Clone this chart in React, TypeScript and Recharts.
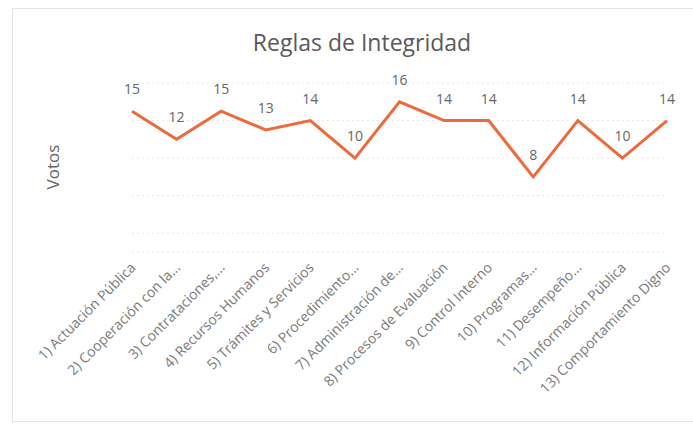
import React from 'react'
import { CartesianGrid, LabelList, Line, LineChart, XAxis, YAxis } from 'recharts'

const categories = [
  '1) Actuación Pública',
  '2) Cooperación con la...',
  '3) Contrataciones,...',
  '4) Recursos Humanos',
  '5) Trámites y Servicios',
  '6) Procedimiento...',
  '7) Administración de...',
  '8) Procesos de Evaluación',
  '9) Control Interno',
  '10) Programas...',
  '11) Desempeño...',
  '12) Información Pública',
  '13) Comportamiento Digno'
]

const votos = [15, 12, 15, 13, 14, 10, 16, 14, 14, 8, 14, 10, 14]

const yTicks = [0, 2, 4, 6, 8, 10, 12, 14, 16, 18]

const data = categories.map((name, i) => ({ name, votos: votos[i] }))

const FONT = '"Open Sans", "Noto Sans", sans-serif'

// rotated category labels, right end sits just under the tick
const AngledTick = (props: any) => {
  const { x, y, payload } = props
  return (
    <g transform={`translate(${x + 1},${y + 13})`}>
      <text
        transform="rotate(-45)"
        textAnchor="end"
        dy="0.35em"
        fill="#7a7a7a"
        fontSize={14}
        fontFamily={FONT}
      >
        {payload.value}
      </text>
    </g>
  )
}

export default function App() {
  return (
    <div
      style={{
        position: 'absolute',
        left: 0,
        top: 0,
        width: 693,
        height: 429,
        background: '#fff',
        overflow: 'hidden'
      }}
    >
      <div
        style={{
          position: 'absolute',
          left: 12,
          top: 8,
          width: 690,
          height: 412,
          border: '1px solid #e4e4e4'
        }}
      />
      <div
        style={{
          position: 'absolute',
          left: 0,
          width: 724,
          top: 26,
          textAlign: 'center',
          fontFamily: FONT,
          fontSize: 23,
          color: '#595959'
        }}
      >
        Reglas de Integridad
      </div>
      <div
        style={{
          position: 'absolute',
          left: 52,
          top: 167,
          transform: 'translate(-50%, -50%) rotate(-90deg)',
          fontFamily: FONT,
          fontSize: 17,
          color: '#666'
        }}
      >
        Votos
      </div>
      <div style={{ position: 'absolute', left: 0, top: 0 }}>
        <LineChart
          width={693}
          height={429}
          data={data}
          margin={{ top: 83, right: 26, left: 132, bottom: 0 }}
        >
          <CartesianGrid
            vertical={false}
            stroke="#e8e8e8"
            strokeDasharray="2 3"
          />
          <XAxis
            dataKey="name"
            interval={0}
            height={177}
            axisLine={false}
            tickLine={false}
            tickSize={0}
            tickMargin={0}
            tick={<AngledTick />}
          />
          <YAxis hide domain={[0, 18]} ticks={yTicks} />
          <Line
            type="linear"
            dataKey="votos"
            stroke="#ec6a3b"
            strokeWidth={3}
            dot={false}
            activeDot={false}
            isAnimationActive={false}
          >
            <LabelList
              dataKey="votos"
              position="top"
              offset={17}
              fill="#666"
              fontSize={14}
              fontFamily={FONT}
            />
          </Line>
        </LineChart>
      </div>
    </div>
  )
}
